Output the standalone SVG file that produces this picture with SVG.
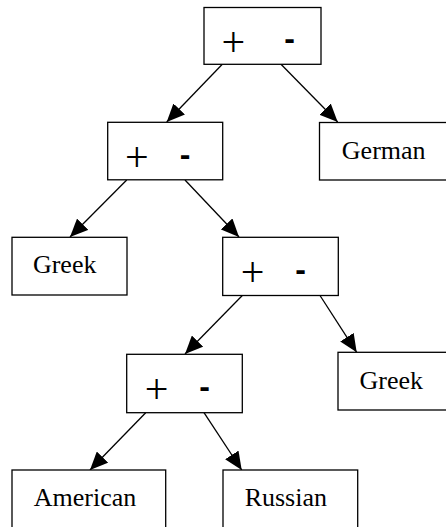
<svg xmlns="http://www.w3.org/2000/svg" width="446" height="527" viewBox="0 0 446 527">
<style>
.box{fill:#fff;stroke:#000;stroke-width:1.3}
.lbl{font-family:"Liberation Serif","Times New Roman",serif;font-size:26px;fill:#000;text-anchor:middle}
.plus{font-family:"Liberation Serif","Times New Roman",serif;font-size:42px;fill:#000;text-anchor:middle}
.minus{font-family:"Liberation Sans",Arial,sans-serif;font-size:32px;font-weight:bold;fill:#000;text-anchor:middle}
.edge{stroke:#000;stroke-width:1.3;fill:none;marker-end:url(#ah)}
</style>
<defs>
<marker id="ah" viewBox="0 0 18 16" refX="18" refY="8" markerWidth="18" markerHeight="16" markerUnits="userSpaceOnUse" orient="auto">
<path d="M0,0 L18,8 L0,16 z" fill="#000"/>
</marker>
</defs>
<rect width="446" height="527" fill="#fff"/>
<g id="connectors">
<line class="edge" x1="222.3" y1="64.3" x2="166.7" y2="122"/>
<line class="edge" x1="281" y1="64.3" x2="337.7" y2="122"/>
<line class="edge" x1="126.7" y1="180" x2="70" y2="237"/>
<line class="edge" x1="185" y1="180" x2="239" y2="237"/>
<line class="edge" x1="242.3" y1="295.5" x2="185" y2="354"/>
<line class="edge" x1="320" y1="295.5" x2="356.7" y2="352.3"/>
<line class="edge" x1="145.7" y1="412.7" x2="90" y2="470"/>
<line class="edge" x1="204" y1="412.7" x2="241.7" y2="470"/>
</g>
<g id="root">
<rect class="box" x="204" y="7.5" width="117" height="56.8"/>
<text class="plus" x="233.3" y="55.6">+</text>
<text class="minus" x="289.5" y="49.3">-</text>
</g>
<g id="german">
<rect class="box" x="319.5" y="122.5" width="130" height="57.5"/>
<text class="lbl" x="383.7" y="159">German</text>
</g>
<g id="split2">
<rect class="box" x="107.7" y="122.3" width="115" height="57.5"/>
<text class="plus" x="136.8" y="170.6">+</text>
<text class="minus" x="185.2" y="164.7">-</text>
</g>
<g id="greek1">
<rect class="box" x="12" y="237.3" width="115" height="57.7"/>
<text class="lbl" x="64.7" y="273.3">Greek</text>
</g>
<g id="split3">
<rect class="box" x="222.7" y="237.3" width="115.6" height="58.2"/>
<text class="plus" x="252.7" y="286">+</text>
<text class="minus" x="300.5" y="279.7">-</text>
</g>
<g id="greek2">
<rect class="box" x="338" y="352.3" width="120" height="57.7"/>
<text class="lbl" x="391.3" y="389.3">Greek</text>
</g>
<g id="split4">
<rect class="box" x="126.7" y="354.3" width="115.6" height="58.4"/>
<text class="plus" x="156.7" y="403">+</text>
<text class="minus" x="204.5" y="396.7">-</text>
</g>
<g id="american">
<rect class="box" x="12" y="470" width="153.7" height="70"/>
<text class="lbl" x="85" y="506">American</text>
</g>
<g id="russian">
<rect class="box" x="223" y="470" width="134.7" height="70"/>
<text class="lbl" x="285.8" y="506">Russian</text>
</g>
</svg>
